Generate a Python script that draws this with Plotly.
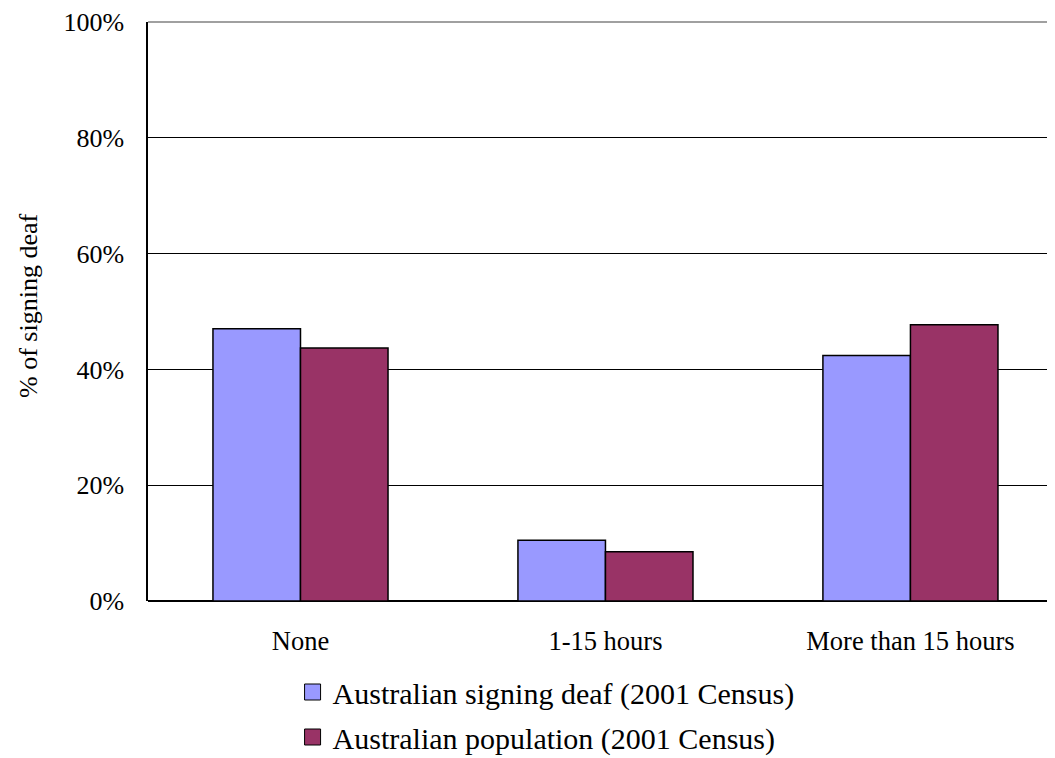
import plotly.graph_objects as go

categories = ["None", "1-15 hours", "More than 15 hours"]
signing_deaf = [47.0, 10.5, 42.4]
population = [43.7, 8.5, 47.7]
series_names = ["Australian signing deaf (2001 Census)", "Australian population (2001 Census)"]
series_colors = ["#9999FF", "#993366"]
y_ticks = [0, 20, 40, 60, 80, 100]
y_tick_labels = ["0%", "20%", "40%", "60%", "80%", "100%"]
y_title = "% of signing deaf"

FONT = "Liberation Serif, Times New Roman, serif"

# page has an 8px body margin: figure sized so plot ends at window edge
FIG_W, FIG_H = 1047, 750
L, T, B = 140, 14, 157
PLOT_W = FIG_W - L
PLOT_H = FIG_H - T - B

fig = go.Figure()
for name, vals, col in zip(series_names, [signing_deaf, population], series_colors):
    fig.add_trace(go.Bar(
        x=categories, y=vals, name=name, showlegend=False, legendgroup=name,
        marker=dict(color=col, line=dict(color="#000000", width=1.5)),
    ))
# legend entries (larger square swatches)
for name, col in zip(series_names, series_colors):
    fig.add_trace(go.Scatter(
        x=[None], y=[None], mode="markers", name=name, legendgroup=name,
        marker=dict(symbol="square", size=16, color=col, line=dict(color="#000000", width=1)),
    ))

fig.update_layout(
    width=FIG_W, height=FIG_H,
    margin=dict(l=L, r=0, t=T, b=B, autoexpand=False),
    paper_bgcolor="white", plot_bgcolor="white",
    barmode="group", bargap=0.426, bargroupgap=0,
    font=dict(family=FONT, color="#000000"),
    showlegend=True,
    legend=dict(
        xref="container", yref="container",
        x=0.2718, y=0.058, xanchor="left", yanchor="middle",
        font=dict(family=FONT, size=30, color="#000000"),
        bgcolor="rgba(0,0,0,0)", borderwidth=0,
        traceorder="grouped", tracegroupgap=3, itemwidth=30,
    ),
    shapes=[dict(type="line", xref="paper", yref="paper", x0=0, x1=1, y0=1, y1=1,
                 line=dict(color="#808080", width=1.5))],
    annotations=[dict(
        text=y_title, xref="paper", yref="paper",
        x=(28 - 148) / PLOT_W, y=(601 - 306) / PLOT_H,
        xanchor="center", yanchor="middle", textangle=-90, showarrow=False,
        font=dict(family=FONT, size=26, color="#000000"),
    )],
)
fig.update_xaxes(
    type="category", range=[-0.5, 2.474],
    showline=False, showgrid=False, ticks="", tickangle=0,
    tickfont=dict(family=FONT, size=26.5, color="#000000"),
    ticklabelstandoff=21,
)
fig.update_yaxes(
    range=[0, 100], tickvals=y_ticks, ticktext=y_tick_labels,
    showgrid=True, gridcolor="#000000", gridwidth=1,
    showline=True, linecolor="#000000", linewidth=1.5,
    zeroline=True, zerolinecolor="#000000", zerolinewidth=1.5,
    ticks="", tickfont=dict(family=FONT, size=26, color="#000000"),
    ticklabelstandoff=17,
)

fig.write_html("out.html")
